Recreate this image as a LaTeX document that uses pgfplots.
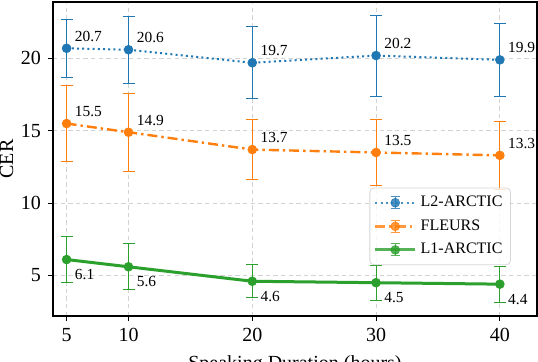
\documentclass[border=0pt]{standalone}
\usepackage{fontspec}
\setmainfont{Liberation Serif}
\usepackage{pgfplots}
\pgfplotsset{compat=1.18}
\usetikzlibrary{calc}

\definecolor{tabblue}{HTML}{1F77B4}
\definecolor{taborange}{HTML}{FF7F0E}
\definecolor{tabgreen}{HTML}{2CA02C}

\begin{document}
\begin{tikzpicture}
\begin{axis}[
    scale only axis,
    width=242pt, height=157pt,
    xmin=3.9, xmax=43,
    ymin=2.2, ymax=23.9,
    xtick={5,10,20,30,40},
    ytick={5,10,15,20},
    tick align=outside,
    xtick pos=left, ytick pos=left,
    major tick length=2.5pt,
    tick style={black, line width=0.5pt},
    axis line style={line width=0.6pt},
    grid=major,
    major grid style={gray!35, line width=0.4pt, dash pattern=on 2.2pt off 1.6pt},
    /pgf/number format/assume math mode=true,
    ticklabel style={font=\fontsize{10}{11}\selectfont},
    xlabel={Speaking Duration (hours)},
    ylabel={CER},
    label style={font=\fontsize{10}{12}\selectfont},
    ylabel style={yshift=-3pt},
    nodes near coords,
    nodes near coords style={font=\fontsize{7.7}{9}\selectfont, text=black,
        inner xsep=1.5pt,
        /pgf/number format/fixed, /pgf/number format/fixed zerofill,
        /pgf/number format/precision=1},
    every axis plot/.append style={
        mark size=2.2pt,
        error bars/y dir=both, error bars/y explicit,
        error bars/error bar style={line width=0.5pt, solid},
        error bars/error mark options={rotate=90, mark size=3pt, line width=0.5pt, solid}},
    legend style={at={(0.946,0.162)}, anchor=south east,
        font=\fontsize{8}{9}\selectfont,
        draw=gray!40, rounded corners=2pt, fill=white, fill opacity=0.8,
        draw opacity=0.8, text opacity=1, row sep=1pt,
        inner xsep=2pt, inner ysep=2pt},
    legend cell align=left,
    legend image code/.code={
        \draw[#1, solid, line width=0.5pt, mark=none]
            (0.35cm,-3pt) -- (0.35cm,3pt)
            (0.27cm,-3pt) -- (0.43cm,-3pt)
            (0.27cm,3pt) -- (0.43cm,3pt);
        \draw[mark repeat=2, mark phase=2, #1]
            plot coordinates {(0cm,0cm) (0.35cm,0cm) (0.7cm,0cm)};
    },
]
\addplot+[tabblue, line width=1pt, dash pattern=on 1pt off 1.6pt, mark=*,
    mark options={solid, fill=tabblue, draw=tabblue, double=white, double distance=0.4pt, line width=0.35pt},
    nodes near coords style={anchor=base west, xshift=2.5pt, yshift=3.5pt}]
    coordinates {
    (5,20.7) +- (0,2.0)
    (10,20.6) +- (0,2.3)
    (20,19.7) +- (0,2.5)
    (30,20.2) +- (0,2.8)
    (40,19.9) +- (0,2.5)
};
\addlegendentry{L2-ARCTIC}
\addplot+[taborange, line width=1.2pt, dash pattern=on 5pt off 2pt on 1.2pt off 2pt, mark=*,
    mark options={solid, fill=taborange, draw=taborange, double=white, double distance=0.4pt, line width=0.35pt},
    nodes near coords style={anchor=base west, xshift=2.5pt, yshift=3.5pt}]
    coordinates {
    (5,15.5) +- (0,2.6)
    (10,14.9) +- (0,2.7)
    (20,13.7) +- (0,2.1)
    (30,13.5) +- (0,2.25)
    (40,13.3) +- (0,2.35)
};
\addlegendentry{FLEURS}
\addplot+[tabgreen, line width=1.5pt, solid, mark=*,
    mark options={solid, fill=tabgreen, draw=tabgreen, double=white, double distance=0.4pt, line width=0.35pt},
    nodes near coords style={anchor=base west, xshift=2.5pt, yshift=-10pt}]
    coordinates {
    (5,6.1) +- (0,1.6)
    (10,5.6) +- (0,1.6)
    (20,4.6) +- (0,1.15)
    (30,4.5) +- (0,1.2)
    (40,4.4) +- (0,1.25)
};
\addlegendentry{L1-ARCTIC}
\end{axis}
\pgfresetboundingbox
\path[use as bounding box] ($(current axis.south west)+(-26.5pt,-23pt)$) rectangle ($(current axis.north east)+(0.5pt,1pt)$);
\end{tikzpicture}
\end{document}
